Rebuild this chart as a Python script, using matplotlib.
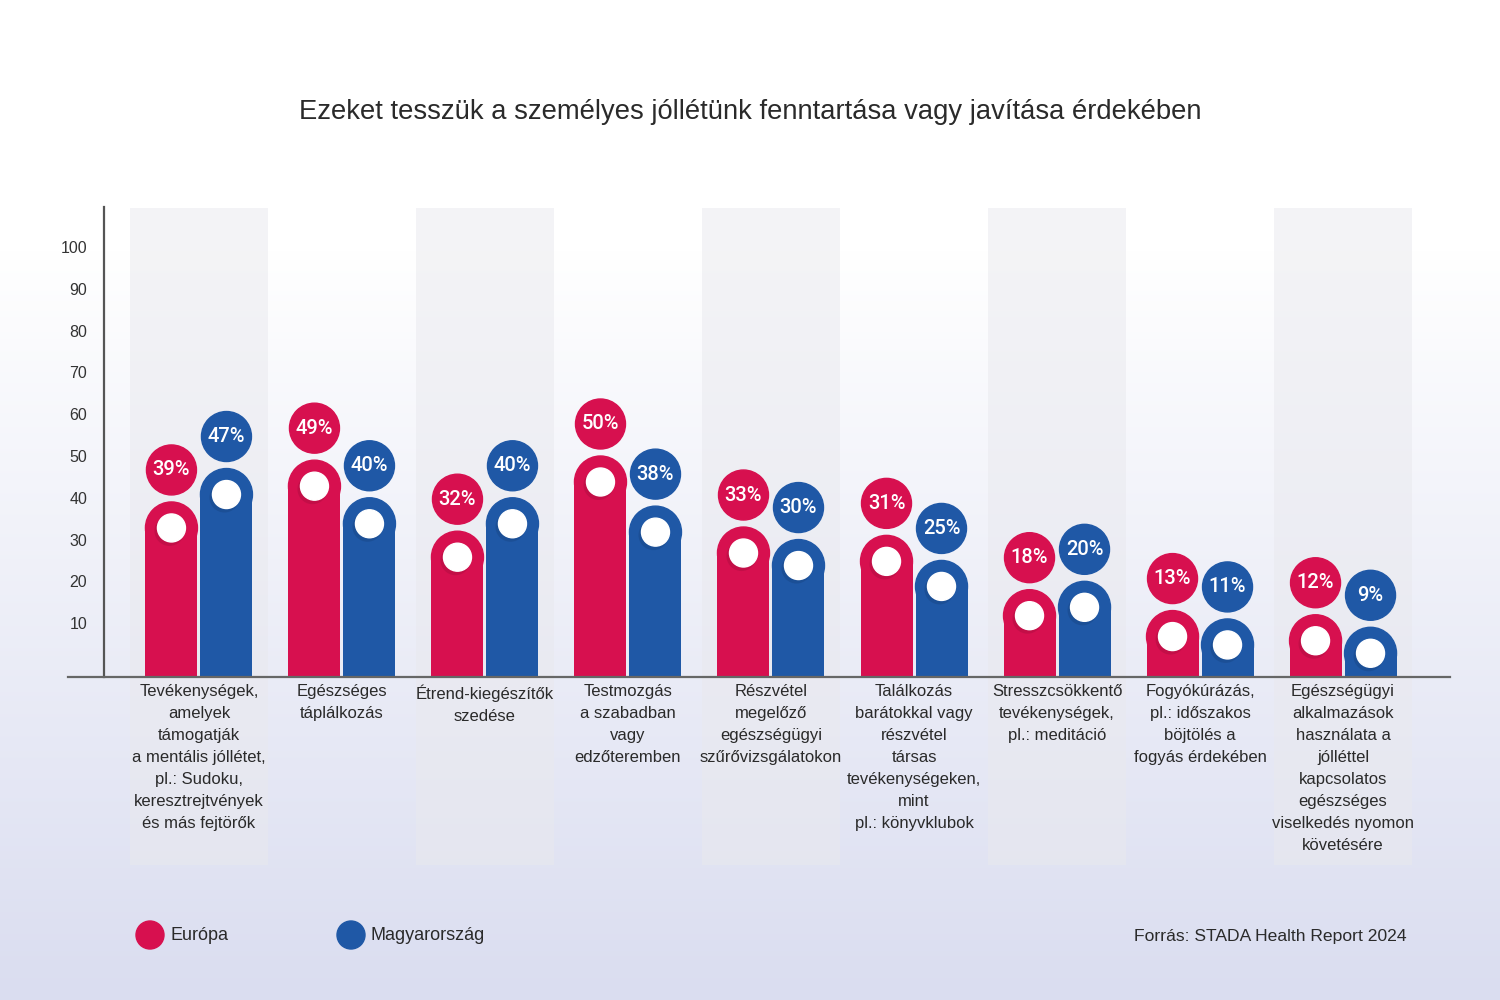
import matplotlib.pyplot as plt
import matplotlib.transforms as mtransforms
import numpy as np
from matplotlib.lines import Line2D
from matplotlib.patches import Ellipse, Rectangle

categories = [
    "Tevékenységek,\namelyek\ntámogatják\na mentális jóllétet,\npl.: Sudoku,\nkeresztrejtvények\nés más fejtörők",
    "Egészséges\ntáplálkozás",
    "Étrend-kiegészítők\nszedése",
    "Testmozgás\na szabadban\nvagy\nedzőteremben",
    "Részvétel\nmegelőző\negészségügyi\nszűrővizsgálatokon",
    "Találkozás\nbarátokkal vagy\nrészvétel\ntársas\ntevékenységeken,\nmint\npl.: könyvklubok",
    "Stresszcsökkentő\ntevékenységek,\npl.: meditáció",
    "Fogyókúrázás,\npl.: időszakos\nböjtölés a\nfogyás érdekében",
    "Egészségügyi\nalkalmazások\nhasználata a\njólléttel\nkapcsolatos\negészséges\nviselkedés nyomon\nkövetésére",
]
europa = [39, 49, 32, 50, 33, 31, 18, 13, 12]
magyar = [47, 40, 40, 38, 30, 25, 20, 11, 9]
yticks = [10, 20, 30, 40, 50, 60, 70, 80, 90, 100]

title = "Ezeket tesszük a személyes jóllétünk fenntartása vagy javítása érdekében"
source = "Forrás: STADA Health Report 2024"

RED = "#d7104f"
BLUE = "#1f58a6"
RED_DARK = "#9e0c3a"
BLUE_DARK = "#163f7a"
TEXT = "#2a2a2a"

plt.rcParams["font.family"] = ["Liberation Sans", "DejaVu Sans"]

W, H = 1500, 1000
fig = plt.figure(figsize=(15, 10), dpi=100)

# background gradient: white on top, light lavender at the bottom
bg = fig.add_axes([0, 0, 1, 1], zorder=-10)
t = np.clip((np.arange(H) - 250) / 750, 0, 1)
top = np.array([1.0, 1.0, 1.0])
bottom = np.array([218, 221, 240]) / 255
img = top[None, :] * (1 - t[:, None]) + bottom[None, :] * t[:, None]
img = np.repeat(img[:, None, :], 2, axis=1)
bg.imshow(img, aspect="auto", extent=[0, 1, 0, 1])
bg.axis("off")

# main axes (pixel layout of the reference)
x0, x1, y_top, y_base = 104, 1450, 207, 677
ax = fig.add_axes([x0 / W, 1 - y_base / H, (x1 - x0) / W, (y_base - y_top) / H])
ax.patch.set_visible(False)
xlim = (-0.664, 8.748)
ylim = (-2.9, 109.6)
ax.set_xlim(xlim)
ax.set_ylim(ylim)
px_x = (x1 - x0) / (xlim[1] - xlim[0])
px_y = (y_base - y_top) / (ylim[1] - ylim[0])

blend = mtransforms.blended_transform_factory(ax.transData, ax.transAxes)

# alternating background bands
for i in range(0, len(categories), 2):
    ax.add_patch(Rectangle((i - 0.485, -0.4), 0.97, 1.398, transform=blend,
                           facecolor="#e9e9ee", alpha=0.5, edgecolor="none",
                           clip_on=False, zorder=0))

bar_w = 52 / px_x
r_y = 26 / px_y
offset = 27.5 / px_x


def draw_bar(cx, v, color, dark):
    ax.bar(cx, v - r_y - ylim[0], bottom=ylim[0], width=bar_w, color=color, zorder=2)
    ax.add_patch(Ellipse((cx, v - r_y), bar_w, 2 * r_y, color=color, zorder=2))
    # soft shadow + white dot
    ax.add_patch(Ellipse((cx - 2 / px_x, v - r_y - 3 / px_y), 30 / px_x, 30 / px_y,
                         color=dark, alpha=0.35, zorder=3, lw=0))
    ax.add_patch(Ellipse((cx, v - r_y), 28 / px_x, 28 / px_y, color="white", zorder=4))
    # label bubble
    ly = v + 32 / px_y
    ax.add_patch(Ellipse((cx, ly), 50 / px_x, 50 / px_y, color=color, zorder=3))
    ax.text(cx, ly, f"{v}%", color="white", fontsize=14.5, ha="center", va="center",
            family=["Roboto", "DejaVu Sans"], fontweight="medium", zorder=5)


for i in range(len(categories)):
    draw_bar(i - offset, europa[i], RED, RED_DARK)
    draw_bar(i + offset, magyar[i], BLUE, BLUE_DARK)
    ax.text(i, -0.015, categories[i], transform=blend, ha="center", va="top",
            fontsize=12, color=TEXT, linespacing=1.58)

ax.set_xticks([])
ax.set_yticks(yticks)
ax.tick_params(axis="y", length=0, pad=12, labelsize=11.5, labelcolor="#333333")
for s in ["top", "right", "bottom"]:
    ax.spines[s].set_visible(False)
ax.spines["left"].set_color("#555555")
ax.spines["left"].set_linewidth(1.6)
ax.add_line(Line2D([(68 - x0) / (x1 - x0), 1], [0, 0], transform=ax.transAxes,
                   color="#666666", lw=1.6, clip_on=False, zorder=6))

# title
fig.text(0.5, 1 - 112 / H, title, ha="center", va="center", fontsize=19.7, color=TEXT)

# legend
for cx, label, color in [(150, "Európa", RED), (351, "Magyarország", BLUE)]:
    fig.patches.append(Ellipse((cx / W, 1 - 935 / H), 28 / W, 28 / H, color=color,
                               transform=fig.transFigure))
    fig.text((cx + 20) / W, 1 - 936 / H, label, ha="left", va="center",
             fontsize=13, color=TEXT)

fig.text(1407 / W, 1 - 937 / H, source, ha="right", va="center", fontsize=12.6, color=TEXT)

fig.savefig("out.png", dpi=100)
